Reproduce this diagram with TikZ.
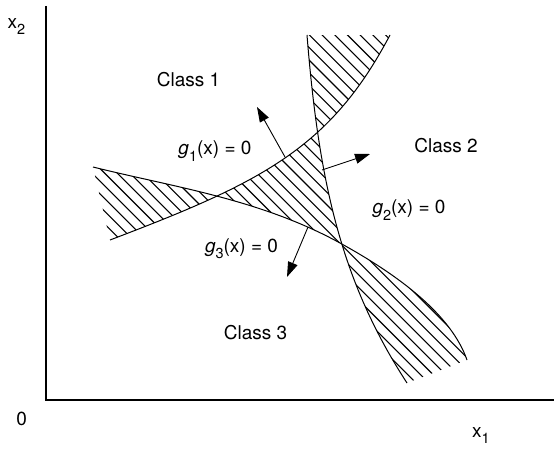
\documentclass[tikz,border=0pt]{standalone}
\usepackage{fontspec}
\setmainfont{TeX Gyre Heros}
\usetikzlibrary{arrows.meta}
\newcommand{\mysub}[1]{\raisebox{-6.5pt}{\fontsize{14.5}{15}\selectfont #1}}
\newcommand{\hatchlines}{\foreach \i in {-16,...,31} {\draw[hatch] ({\i*12.7+7.7},0) -- ({\i*12.7+507.7},500);}}
\begin{document}
\begin{tikzpicture}[x=1pt,y=-1pt,
  lbl/.style={inner sep=0pt, anchor=base, font=\fontsize{19}{22}\selectfont},
  curve/.style={line width=1pt, black},
  axis/.style={line width=2pt, line join=miter},
  hatch/.style={line width=1.1pt, black},
  normal/.style={line width=0.9pt, -{Triangle[length=15pt,width=10pt]}},
  g1rest/.style={insert path={.. controls (260,183) and (330,149) .. (390,35)}},
  g2rest/.style={insert path={.. controls (319,185) and (342,283) .. (407,383)}},
  g3rest/.style={insert path={.. controls (173,187) and (260,199) .. (340,243) .. controls (400,276) and (451.25,315) .. (467,360)}},
]
\useasboundingbox (0,0) rectangle (554,449);

% hatched region A (left)
\begin{scope}
\clip (-50,131) -- (93,167) [g3rest] -- (516,500) -- (-50,500) -- cycle;
\clip (-50,301) -- (110,240) [g1rest] -- (461,-100) -- (-50,-100) -- cycle;
\clip (91.4,160) -- (240,160) -- (240,250) -- (112.3,250) -- cycle;
\hatchlines
\end{scope}
% hatched region B (triangle)
\begin{scope}
\clip (-50,131) -- (93,167) [g3rest] -- (516,500) -- (650,500) -- (650,-100) -- (-50,-100) -- cycle;
\clip (-50,301) -- (110,240) [g1rest] -- (461,-100) -- (650,-100) -- (650,500) -- (-50,500) -- cycle;
\clip (296,-100) -- (307,35) [g2rest] -- (483,500) -- (-50,500) -- (-50,-100) -- cycle;
\hatchlines
\end{scope}
% hatched region C (upper)
\begin{scope}
\clip (296,-100) -- (307,35) [g2rest] -- (483,500) -- (650,500) -- (650,-100) -- cycle;
\clip (-50,301) -- (110,240) [g1rest] -- (461,-100) -- (-50,-100) -- cycle;
\clip (0,36) rectangle (554,449);
\hatchlines
\end{scope}
% hatched region D (lower)
\begin{scope}
\clip (296,-100) -- (307,35) [g2rest] -- (483,500) -- (650,500) -- (650,-100) -- cycle;
\clip (-50,131) -- (93,167) [g3rest] -- (516,500) -- (-50,500) -- cycle;
\clip (300,424) -- (600,309) -- (600,0) -- (300,0) -- cycle;
\hatchlines
\end{scope}

% decision boundaries
\draw[curve] (110,240) [g1rest];
\draw[curve] (307,35) [g2rest];
\draw[curve] (93,167) [g3rest];

% axes
\coordinate (ytop) at (46,6);
\coordinate (orig) at (46,400);
\coordinate (xend) at (554,400);
\draw[axis] (ytop) -- (orig) -- (xend);

% normal arrows
\coordinate (n1s) at (285,157); \coordinate (n1e) at (257,107);
\coordinate (n2s) at (322,170); \coordinate (n2e) at (370,154);
\coordinate (n3s) at (308,227); \coordinate (n3e) at (287,277);
\draw[normal] (n1s) -- (n1e);
\draw[normal] (n2s) -- (n2e);
\draw[normal] (n3s) -- (n3e);

% labels
\node[lbl] (c1) at (188.5,87) {Class 1};
\node[lbl] (c2) at (446,153) {Class 2};
\node[lbl] (c3) at (255.5,339) {Class 3};
\node[lbl] (l1) at (215,155) {\textit{g}\mysub{1}(x) = 0};
\node[lbl] (l2) at (409,214) {\textit{g}\mysub{2}(x) = 0};
\node[lbl] (l3) at (241.5,252) {\textit{g}\mysub{3}(x) = 0};
\node[lbl] (ax2) at (16.5,28.3) {x\mysub{2}};
\node[lbl] (zero) at (21.7,425) {0};
\node[lbl] (ax1) at (481,437) {x\mysub{1}};
\end{tikzpicture}
\end{document}
